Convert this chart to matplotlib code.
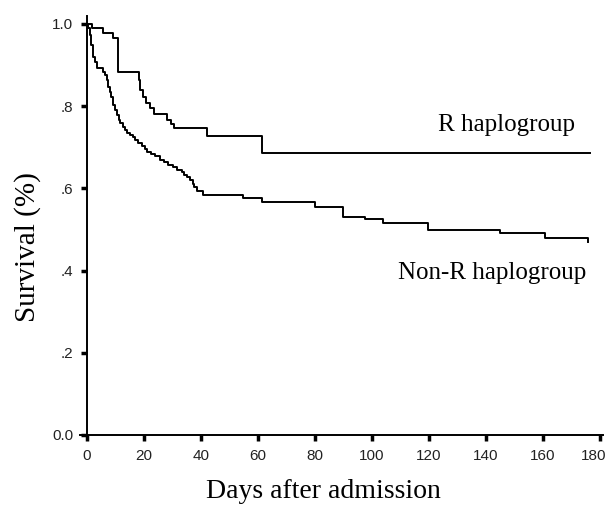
import matplotlib
matplotlib.use('Agg')
import matplotlib.pyplot as plt
from matplotlib.transforms import ScaledTranslation

# Kaplan-Meier steps (days, survival fraction)
r_days = [0, 1.75, 5.6, 9.1, 10.9, 18.2, 18.6, 19.6, 20.7, 22.1, 23.5, 28.1, 29.5,
          30.5, 42.1, 61.4, 176.5]
r_surv = [1.0, 0.991, 0.978, 0.966, 0.883, 0.864, 0.839, 0.822, 0.808, 0.796, 0.781,
          0.766, 0.757, 0.747, 0.727, 0.686, 0.686]

nonr_days = [0, 0.5, 1.0, 1.4, 2.0, 2.8, 3.5, 5.6, 6.3, 7.0, 7.4, 8.1, 8.6, 9.1, 9.8,
             10.5, 11.2, 11.6, 12.6, 13.3, 14.0, 15.1, 16.1, 16.8, 18.0, 19.3, 20.2,
             21.1, 22.5, 23.9, 25.6, 27.0, 28.4, 30.2, 31.6, 33.3, 34.0, 35.0, 36.1,
             37.2, 37.7, 38.6, 40.7, 54.7, 61.4, 80.0, 89.8, 97.5, 103.9, 119.6,
             144.9, 160.7, 175.4, 175.6]
nonr_surv = [1.0, 0.99, 0.973, 0.949, 0.92, 0.908, 0.893, 0.883, 0.876, 0.864, 0.847,
             0.835, 0.822, 0.803, 0.791, 0.779, 0.766, 0.759, 0.749, 0.742, 0.735,
             0.729, 0.725, 0.718, 0.711, 0.704, 0.697, 0.689, 0.684, 0.679, 0.669,
             0.664, 0.657, 0.652, 0.645, 0.640, 0.633, 0.627, 0.620, 0.611, 0.603,
             0.594, 0.584, 0.577, 0.567, 0.555, 0.530, 0.525, 0.516, 0.499, 0.491,
             0.479, 0.479, 0.470]

x_ticks = [0, 20, 40, 60, 80, 100, 120, 140, 160, 180]
y_ticks = [0.0, 0.2, 0.4, 0.6, 0.8, 1.0]
y_labels = ['0.0', '.2', '.4', '.6', '.8', '1.0']

serif = ['Liberation Serif', 'DejaVu Serif']
sans = ['Liberation Sans Narrow', 'Liberation Sans', 'DejaVu Sans']

fig = plt.figure(figsize=(6.11, 5.09), dpi=100)
ax = fig.add_axes([0.1316, 0.1415, 0.8552, 0.8275])

ax.step(r_days, r_surv, where='post', color='black', lw=1.4)
ax.step(nonr_days, nonr_surv, where='post', color='black', lw=1.4)

ax.set_xlim(-2.3, 181)
ax.set_ylim(-0.005, 1.02)
ax.spines['top'].set_visible(False)
ax.spines['right'].set_visible(False)
ax.spines['left'].set_position(('data', 0))
ax.spines['bottom'].set_position(('data', 0))
ax.spines['left'].set_linewidth(1.4)
ax.spines['bottom'].set_linewidth(1.4)

ax.set_xticks(x_ticks)
ax.set_yticks(y_ticks)
ax.set_yticklabels(y_labels)
ax.tick_params(direction='out', length=4, width=2.5, color='black', pad=6)
for lab in ax.get_xticklabels() + ax.get_yticklabels():
    lab.set_family(sans)
    lab.set_fontsize(11)
    lab.set_color('#222222')
# last x label sits a little left of its tick so it stays inside the figure
last = ax.get_xticklabels()[-1]
last.set_transform(last.get_transform() + ScaledTranslation(-6 / 100, 0, fig.dpi_scale_trans))

ax.set_xlabel('Days after admission', family=serif, fontsize=20)
ax.xaxis.set_label_coords(0.465, -0.1)
ax.set_ylabel('Survival (%)', family=serif, fontsize=21)
ax.yaxis.set_label_coords(-0.075, 0.45)

ax.text(147, 0.754, 'R haplogroup', family=serif, fontsize=18, ha='center', va='center')
ax.text(142, 0.394, 'Non-R haplogroup', family=serif, fontsize=18, ha='center', va='center')

fig.savefig('out.png', dpi=100)
